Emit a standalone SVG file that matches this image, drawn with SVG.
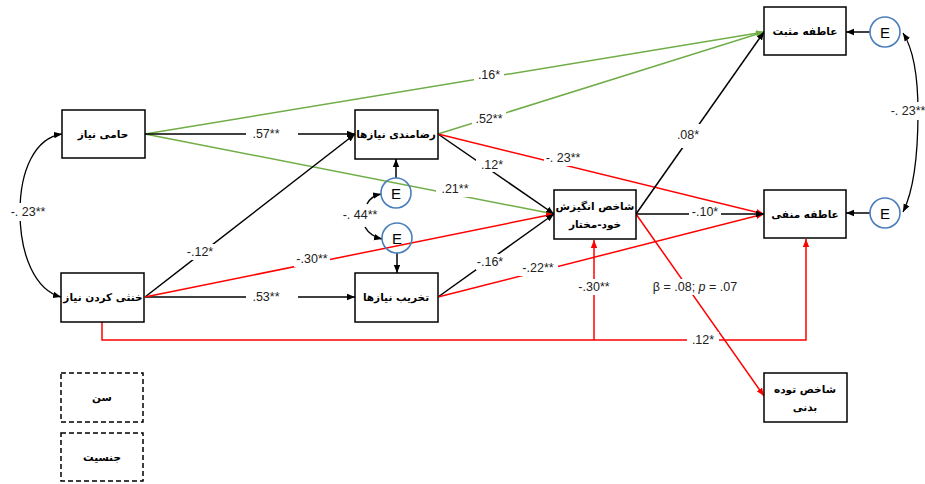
<svg xmlns="http://www.w3.org/2000/svg" width="925" height="484" viewBox="0 0 925 484">
<style>
.box{fill:#fff;stroke:#000;stroke-width:1.5}
.dash{fill:#fff;stroke:#000;stroke-width:1.5;stroke-dasharray:5,3}
.fa{font-family:"DejaVu Sans",sans-serif;font-size:10.5px;font-weight:bold;text-anchor:middle;direction:rtl}
.num{font-family:"Liberation Sans",Arial,sans-serif;font-size:12.5px;text-anchor:middle;fill:#222}
.bg{fill:#fff}
.ec{fill:none;stroke:#4a7ebb;stroke-width:1.6}
.et{font-family:"Liberation Sans",Arial,sans-serif;font-size:15px;text-anchor:middle}
.k{fill:none;stroke:#000;stroke-width:1.5;marker-end:url(#ak)}
.r{fill:none;stroke:#f00;stroke-width:1.5;marker-end:url(#ar)}
.g{fill:none;stroke:#70ad47;stroke-width:1.5;marker-end:url(#ag)}
.dbl{fill:none;stroke:#000;stroke-width:1.3;marker-end:url(#ak);marker-start:url(#ak)}
</style>
<defs>
<marker id="ak" viewBox="0 0 10 10" refX="10" refY="5" markerWidth="8" markerHeight="8" markerUnits="userSpaceOnUse" orient="auto-start-reverse"><path d="M0,1 L10,5 L0,9z" fill="#000"/></marker>
<marker id="ar" viewBox="0 0 10 10" refX="10" refY="5" markerWidth="8" markerHeight="8" markerUnits="userSpaceOnUse" orient="auto-start-reverse"><path d="M0,1 L10,5 L0,9z" fill="#f00"/></marker>
<marker id="ag" viewBox="0 0 10 10" refX="10" refY="5" markerWidth="8" markerHeight="8" markerUnits="userSpaceOnUse" orient="auto-start-reverse"><path d="M0,1 L10,5 L0,9z" fill="#70ad47"/></marker>
</defs>
<rect width="925" height="484" fill="#fff"/>

<g id="connectors">
<path class="g" d="M145,134 L764,32"/>
<path class="g" d="M145,134 L554,214"/>
<path class="g" d="M438,134 L764,32"/>
<path class="k" d="M145,134 L355,134"/>
<path class="k" d="M145,297 L355,297"/>
<path class="k" d="M145,297 L355,134"/>
<path class="r" d="M145,297 L554,214"/>
<path class="k" d="M438,134 L554,214"/>
<path class="r" d="M438,134 L764,214"/>
<path class="k" d="M438,297 L554,214"/>
<path class="r" d="M438,297 L764,214"/>
<path class="k" d="M636,214 L764,32"/>
<path class="k" d="M636,214 L764,214"/>
<path class="r" d="M636,214 L764,396"/>
<path class="r" d="M102,322 V340 H806 V239"/>
<path class="r" d="M594,340 V240"/>
<path class="dbl" d="M62,134 C35,138 20,170 20,212 C20,255 35,290 61,297"/>
<path class="dbl" d="M903,33 C914,50 918,80 918,112 C918,150 914,190 903,212"/>
<path class="k" stroke-width="1.3" d="M367,204 Q371,196 381,194"/>
<path class="k" stroke-width="1.3" d="M365,227 Q370,236 382,239"/>
<path class="k" d="M396,178 V159"/>
<path class="k" d="M397,253 V273"/>
<path class="k" d="M870,32 H846"/>
<path class="k" d="M870,213 H846"/>

<rect class="bg" x="246" y="126" width="52" height="16"/><text class="num" x="266" y="138">.57**</text>
<rect class="bg" x="246" y="289" width="52" height="16"/><text class="num" x="266" y="301">.53**</text>
<rect class="bg" x="184" y="244" width="32" height="16"/><text class="num" x="200" y="256">-.12*</text>
<rect class="bg" x="474" y="67" width="30" height="16"/><text class="num" x="489" y="79">.16*</text>
<rect class="bg" x="436" y="182" width="38" height="15"/><text class="num" x="455" y="193">.21**</text>
<rect class="bg" x="472" y="111" width="34" height="16"/><text class="num" x="489" y="123">.52**</text>
<rect class="bg" x="544" y="150" width="39" height="16"/><text class="num" x="563" y="162">-. 23**</text>
<rect class="bg" x="476" y="157" width="31" height="15"/><text class="num" x="492" y="169">.12*</text>
<rect class="bg" x="294" y="251" width="36" height="16"/><text class="num" x="312" y="263">-.30**</text>
<rect class="bg" x="476" y="254" width="29" height="16"/><text class="num" x="490" y="266">-.16*</text>
<rect class="bg" x="519" y="260" width="39" height="16"/><text class="num" x="538" y="272">-.22**</text>
<rect class="bg" x="674" y="124" width="28" height="24"/><text class="num" x="688" y="139">.08*</text>
<rect class="bg" x="689" y="206" width="32" height="16"/><text class="num" x="705" y="216">-.10*</text>
<rect class="bg" x="650" y="279" width="90" height="16"/><text class="num" x="695" y="291">β = .08; <tspan font-style="italic">p</tspan> = .07</text>
<rect class="bg" x="577" y="279" width="35" height="16"/><text class="num" x="594" y="291">-.30**</text>
<rect class="bg" x="687" y="332" width="32" height="16"/><text class="num" x="703" y="344">.12*</text>
<rect class="bg" x="11" y="203" width="36" height="18"/><text class="num" x="28" y="216">-. 23**</text>
<rect class="bg" x="891" y="102" width="34" height="18"/><text class="num" x="908" y="115">-. 23**</text>
<rect class="bg" x="341" y="207" width="38" height="16"/><text class="num" x="360" y="219">-. 44**</text>
</g>

<g id="n1"><rect class="box" x="62" y="110" width="83" height="48"/><text class="fa" x="103" y="138">حامی نیاز</text></g>
<g id="n2"><rect class="box" x="61" y="273" width="83" height="49"/><text class="fa" x="103" y="301">خنثی کردن نیاز</text></g>
<g id="n3"><rect class="box" x="355" y="110" width="83" height="49"/><text class="fa" x="396" y="138">رضامندی نیازها</text></g>
<g id="n4"><rect class="box" x="355" y="273" width="83" height="49"/><text class="fa" x="396" y="301">تخریب نیازها</text></g>
<g id="n5"><rect class="box" x="554" y="190" width="82" height="49"/><text class="fa" x="595" y="210">شاخص انگیزش</text><text class="fa" x="595" y="228">خود-مختار</text></g>
<g id="n6"><rect class="box" x="764" y="7" width="82" height="48"/><text class="fa" x="805" y="35">عاطفه مثبت</text></g>
<g id="n7"><rect class="box" x="764" y="190" width="82" height="48"/><text class="fa" x="805" y="218">عاطفه منفی</text></g>
<g id="n8"><rect class="box" x="764" y="373" width="83" height="49"/><text class="fa" x="805" y="393">شاخص توده</text><text class="fa" x="805" y="411">بدنی</text></g>
<g id="n9"><rect class="dash" x="61" y="373" width="82" height="49"/><text class="fa" x="102" y="401" font-weight="normal">سن</text></g>
<g id="n10"><rect class="dash" x="61" y="433" width="82" height="48"/><text class="fa" x="102" y="461" font-weight="normal">جنسیت</text></g>
<g id="e1"><circle class="ec" cx="396" cy="193" r="15"/><text class="et" x="396" y="198.5">E</text></g>
<g id="e2"><circle class="ec" cx="397" cy="238" r="15"/><text class="et" x="397" y="243.5">E</text></g>
<g id="e3"><circle class="ec" cx="885" cy="32" r="15"/><text class="et" x="885" y="37.5">E</text></g>
<g id="e4"><circle class="ec" cx="885" cy="213" r="15"/><text class="et" x="885" y="218.5">E</text></g>
</svg>
